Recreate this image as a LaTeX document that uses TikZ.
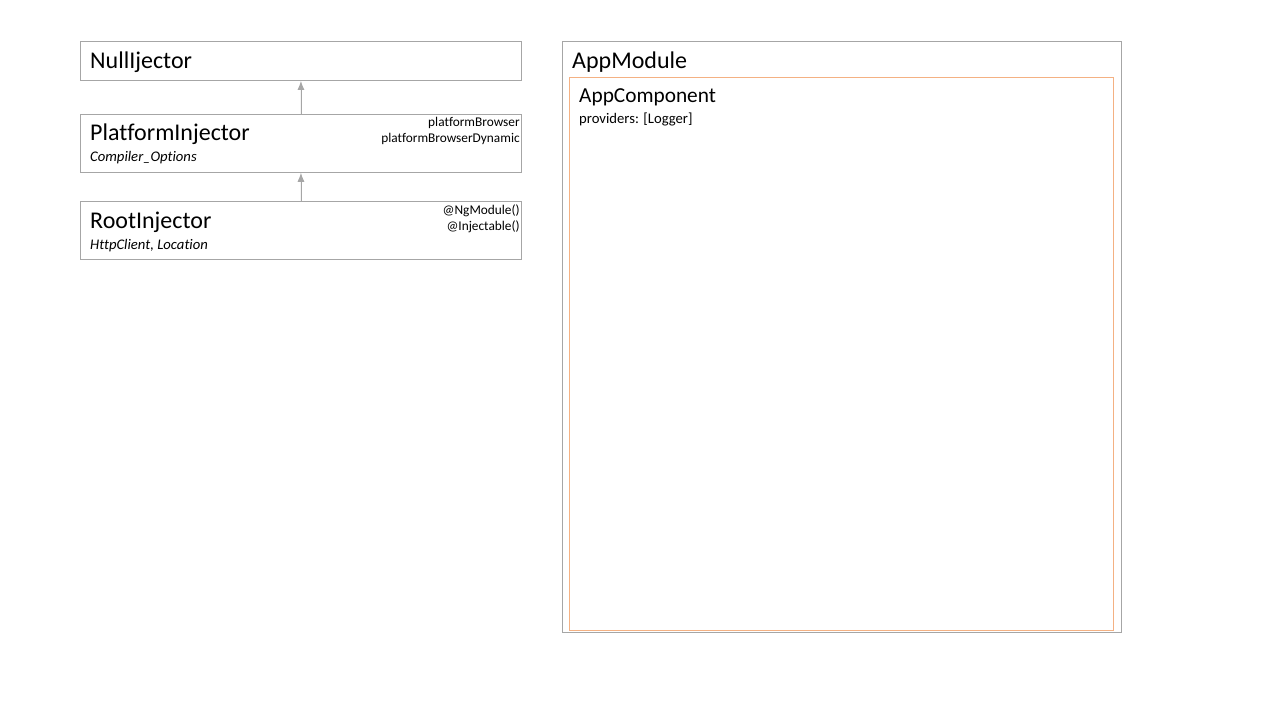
\documentclass[tikz,border=0pt]{standalone}
\usepackage{fontspec}
\setmainfont{Carlito}[Ligatures=NoCommon]
\usepackage{tikz}
\usetikzlibrary{positioning,calc,arrows.meta}

\definecolor{boxgray}{HTML}{A6A6A6}
\definecolor{boxorange}{HTML}{F4B183}

\tikzset{
	injbox/.style={draw=boxgray, line width=0.9pt, minimum width=441pt, inner sep=0pt},
	title/.style={font=\fontsize{24}{28}\selectfont, inner sep=0pt, anchor=base west},
	subtitle/.style={font=\fontsize{14.67}{17}\selectfont\itshape, inner sep=0pt, anchor=base west},
	tag/.style={font=\fontsize{13.33}{16}\selectfont, inner sep=0pt, anchor=base east},
	uparrow/.style={-{Latex[length=9pt,width=7pt]}, draw=boxgray, fill=boxgray, line width=0.9pt},
}

\begin{document}
\begin{tikzpicture}[x=1pt,y=-1pt]
		\useasboundingbox (0,0) rectangle (1280,720);

		% injector chain
		\node[injbox,
			anchor=north west,
			minimum height=39pt] (null) at (80,41) {};

		\node[injbox,
			below=33pt of null,
			minimum height=58pt] (platform) {};

		\node[injbox,
			below=28pt of platform,
			minimum height=58pt] (root) {};

		\node[title] (nulltitle) at ($(null.north west)+(10,27)$) {NullIjector};

		\node[title] (platformtitle) at ($(platform.north west)+(10,27)$) {PlatformInjector};
		\node[subtitle] (platformsub) at ($(platform.north west)+(10,48)$) {Compiler\_Options};
		\node[tag] (browser) at ($(platform.north east)+(-2,13)$) {platformBrowser};
		\node[tag] (browserdyn) at ($(platform.north east)+(-2,29)$) {platformBrowserDynamic};

		\node[title] (roottitle) at ($(root.north west)+(10,28)$) {RootInjector};
		\node[subtitle] (rootsub) at ($(root.north west)+(10,49)$) {HttpClient, Location};
		\node[tag] (ngmodule) at ($(root.north east)+(-2,14)$) {@NgModule()};
		\node[tag] (injectable) at ($(root.north east)+(-2,30)$) {@Injectable()};

		\draw (platform) edge[uparrow] (null)
		(root) edge[uparrow] (platform);

		% module side
		\node[draw=boxgray,
			line width=0.9pt,
			anchor=north west,
			minimum width=559pt,
			minimum height=591pt] (appmodule) at (562,41) {};

		\node[draw=boxorange,
			line width=0.9pt,
			anchor=north west,
			minimum width=544pt,
			minimum height=553pt] (appcomponent) at (569,77) {};

		\node[title] (moduletitle) at ($(appmodule.north west)+(10,27)$) {AppModule};
		\node[title, font=\fontsize{21.33}{25}\selectfont] (componenttitle) at ($(appcomponent.north west)+(10,25)$) {AppComponent};
		\node[subtitle, font=\fontsize{14.67}{17}\selectfont] (providers) at ($(appcomponent.north west)+(10,46)$) {providers: [Logger]};

	\end{tikzpicture}
\end{document}
